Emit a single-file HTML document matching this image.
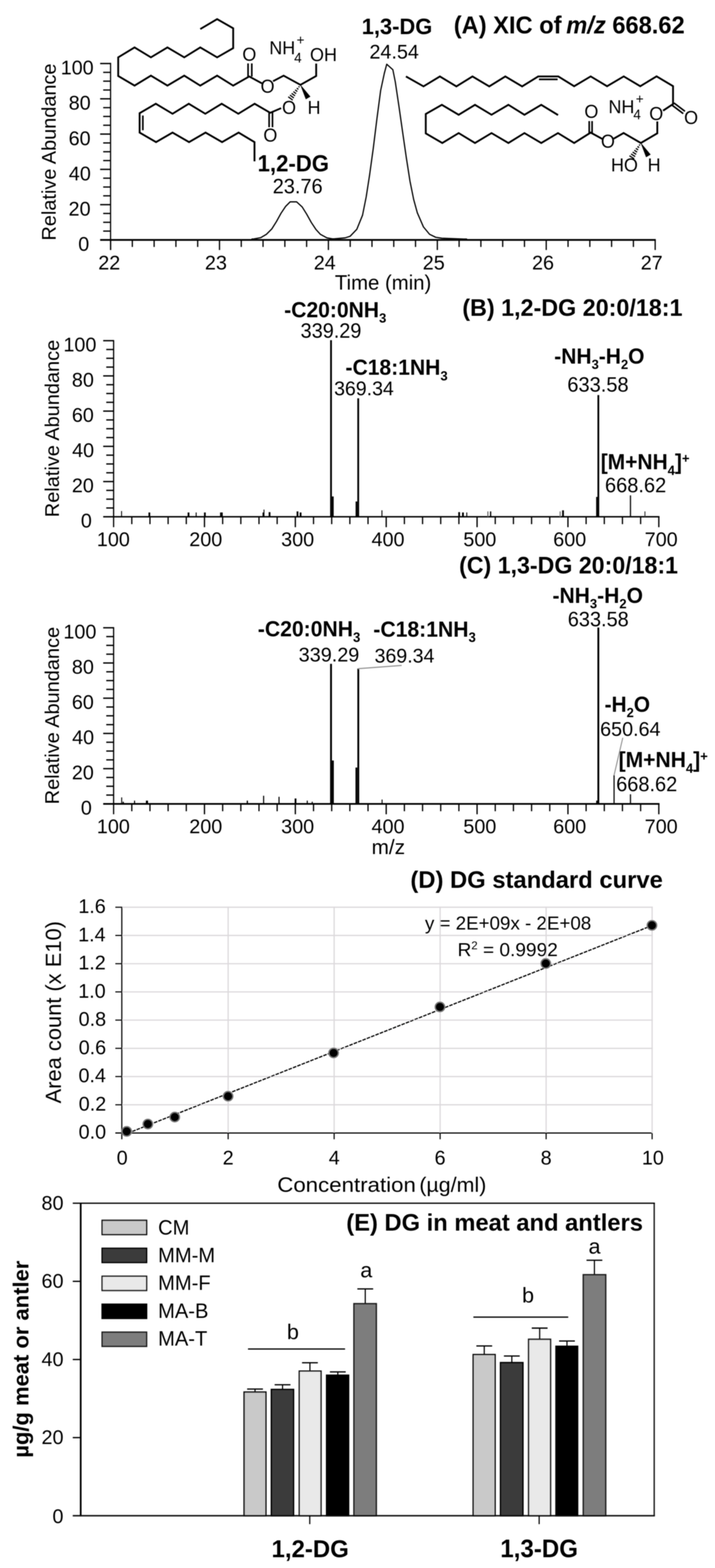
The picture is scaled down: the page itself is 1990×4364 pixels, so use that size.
<!DOCTYPE html>
<html lang="en">
<head>
<meta charset="utf-8">
<title>DG figure</title>
<style>
html,body{margin:0;padding:0;background:#fff;}
body{width:1990px;height:4364px;overflow:hidden;}
svg{display:block;font-family:"Liberation Sans",sans-serif;}
text{white-space:pre;}
</style>
</head>
<body>
<svg width="1990" height="4364" viewBox="0 0 1990 4364">
<defs><filter id="soft" filterUnits="userSpaceOnUse" x="0" y="0" width="1990" height="4364"><feGaussianBlur stdDeviation="1"/></filter></defs>
<rect x="0" y="0" width="1990" height="4364" fill="#fff"/>
<g filter="url(#soft)">
<g id="panelA">
<line x1="307.7" y1="174.8" x2="307.7" y2="695.8" stroke="#000" stroke-width="3.3"/>
<line x1="278.7" y1="667.8" x2="1825.2" y2="667.8" stroke="#000" stroke-width="5"/>
<text transform="translate(217.7 698.1) scale(1 1.02)" font-size="55">0</text>
<line x1="287.2" y1="643.2" x2="307.7" y2="643.2" stroke="#000" stroke-width="3.6"/>
<line x1="287.2" y1="618.7" x2="307.7" y2="618.7" stroke="#000" stroke-width="3.6"/>
<line x1="287.2" y1="594.1" x2="307.7" y2="594.1" stroke="#000" stroke-width="3.6"/>
<line x1="278.7" y1="569.6" x2="307.7" y2="569.6" stroke="#000" stroke-width="3.8"/>
<text transform="translate(190.8 599.9) scale(1 1.02)" font-size="55">20</text>
<line x1="287.2" y1="545" x2="307.7" y2="545" stroke="#000" stroke-width="3.6"/>
<line x1="287.2" y1="520.5" x2="307.7" y2="520.5" stroke="#000" stroke-width="3.6"/>
<line x1="287.2" y1="495.9" x2="307.7" y2="495.9" stroke="#000" stroke-width="3.6"/>
<line x1="278.7" y1="471.4" x2="307.7" y2="471.4" stroke="#000" stroke-width="3.8"/>
<text transform="translate(191.6 501.7) scale(1 1.02)" font-size="55">40</text>
<line x1="287.2" y1="446.9" x2="307.7" y2="446.9" stroke="#000" stroke-width="3.6"/>
<line x1="287.2" y1="422.3" x2="307.7" y2="422.3" stroke="#000" stroke-width="3.6"/>
<line x1="287.2" y1="397.8" x2="307.7" y2="397.8" stroke="#000" stroke-width="3.6"/>
<line x1="278.7" y1="373.2" x2="307.7" y2="373.2" stroke="#000" stroke-width="3.8"/>
<text transform="translate(191 403.5) scale(1 1.02)" font-size="55">60</text>
<line x1="287.2" y1="348.6" x2="307.7" y2="348.6" stroke="#000" stroke-width="3.6"/>
<line x1="287.2" y1="324.1" x2="307.7" y2="324.1" stroke="#000" stroke-width="3.6"/>
<line x1="287.2" y1="299.6" x2="307.7" y2="299.6" stroke="#000" stroke-width="3.6"/>
<line x1="278.7" y1="275" x2="307.7" y2="275" stroke="#000" stroke-width="3.8"/>
<text transform="translate(191.2 305.3) scale(1 1.02)" font-size="55">80</text>
<line x1="287.2" y1="250.5" x2="307.7" y2="250.5" stroke="#000" stroke-width="3.6"/>
<line x1="287.2" y1="225.9" x2="307.7" y2="225.9" stroke="#000" stroke-width="3.6"/>
<line x1="287.2" y1="201.4" x2="307.7" y2="201.4" stroke="#000" stroke-width="3.6"/>
<line x1="278.7" y1="176.8" x2="307.7" y2="176.8" stroke="#000" stroke-width="3.8"/>
<text transform="translate(168.9 207.1) scale(1 1.02)" font-size="55">100</text>
<line x1="307.7" y1="667.8" x2="307.7" y2="695.8" stroke="#000" stroke-width="3.5"/>
<text transform="translate(273.4 749.5) scale(1 1.02)" font-size="55">22</text>
<line x1="368.3" y1="667.8" x2="368.3" y2="687.3" stroke="#000" stroke-width="3.5"/>
<line x1="429" y1="667.8" x2="429" y2="687.3" stroke="#000" stroke-width="3.5"/>
<line x1="489.6" y1="667.8" x2="489.6" y2="687.3" stroke="#000" stroke-width="3.5"/>
<line x1="550.2" y1="667.8" x2="550.2" y2="687.3" stroke="#000" stroke-width="3.5"/>
<line x1="610.9" y1="667.8" x2="610.9" y2="695.8" stroke="#000" stroke-width="3.5"/>
<text transform="translate(570.3 749.5) scale(1 1.02)" font-size="55">23</text>
<line x1="671.5" y1="667.8" x2="671.5" y2="687.3" stroke="#000" stroke-width="3.5"/>
<line x1="732.1" y1="667.8" x2="732.1" y2="687.3" stroke="#000" stroke-width="3.5"/>
<line x1="792.8" y1="667.8" x2="792.8" y2="687.3" stroke="#000" stroke-width="3.5"/>
<line x1="853.4" y1="667.8" x2="853.4" y2="687.3" stroke="#000" stroke-width="3.5"/>
<line x1="914" y1="667.8" x2="914" y2="695.8" stroke="#000" stroke-width="3.5"/>
<text transform="translate(873.2 749.5) scale(1 1.02)" font-size="55">24</text>
<line x1="974.7" y1="667.8" x2="974.7" y2="687.3" stroke="#000" stroke-width="3.5"/>
<line x1="1035.3" y1="667.8" x2="1035.3" y2="687.3" stroke="#000" stroke-width="3.5"/>
<line x1="1095.9" y1="667.8" x2="1095.9" y2="687.3" stroke="#000" stroke-width="3.5"/>
<line x1="1156.5" y1="667.8" x2="1156.5" y2="687.3" stroke="#000" stroke-width="3.5"/>
<line x1="1217.2" y1="667.8" x2="1217.2" y2="695.8" stroke="#000" stroke-width="3.5"/>
<text transform="translate(1176.6 749.5) scale(1 1.02)" font-size="55">25</text>
<line x1="1277.8" y1="667.8" x2="1277.8" y2="687.3" stroke="#000" stroke-width="3.5"/>
<line x1="1338.4" y1="667.8" x2="1338.4" y2="687.3" stroke="#000" stroke-width="3.5"/>
<line x1="1399.1" y1="667.8" x2="1399.1" y2="687.3" stroke="#000" stroke-width="3.5"/>
<line x1="1459.7" y1="667.8" x2="1459.7" y2="687.3" stroke="#000" stroke-width="3.5"/>
<line x1="1520.3" y1="667.8" x2="1520.3" y2="695.8" stroke="#000" stroke-width="3.5"/>
<text transform="translate(1480.7 749.5) scale(1 1.02)" font-size="55">26</text>
<line x1="1581" y1="667.8" x2="1581" y2="687.3" stroke="#000" stroke-width="3.5"/>
<line x1="1641.6" y1="667.8" x2="1641.6" y2="687.3" stroke="#000" stroke-width="3.5"/>
<line x1="1702.2" y1="667.8" x2="1702.2" y2="687.3" stroke="#000" stroke-width="3.5"/>
<line x1="1762.9" y1="667.8" x2="1762.9" y2="687.3" stroke="#000" stroke-width="3.5"/>
<line x1="1823.5" y1="667.8" x2="1823.5" y2="695.8" stroke="#000" stroke-width="3.5"/>
<text transform="translate(1783.2 749.5) scale(1 1.02)" font-size="55">27</text>
<text transform="translate(154.5 669.4) rotate(-90)" font-size="55.4">Relative Abundance</text>
<text transform="translate(932.1 806)" font-size="56.61">Time (min)</text>
<polyline points="700,665.3 705.5,665.1 726,661.3 741.3,652.3 756.6,637 769.4,616.6 782.1,593.6 794.9,574.5 807.6,561.7 825.5,561.7 840.8,575.7 853.6,596.2 866.4,619.1 879.1,638.3 891.9,652.3 909.8,662 925,664.6 930,664.8 960.6,662 974.3,657.7 993,638.3 1009,599 1019.2,548 1028.7,486.8 1039,412 1049.1,330.2 1059.4,252 1069.6,204.3 1076.4,178.7 1093.4,194 1100.2,228 1110.4,296.2 1120.6,367.7 1130.9,439 1141,503.8 1151.3,555 1161.5,592.3 1178.5,631.5 1195.5,652 1212.6,660.4 1229.6,663 1287.4,665.2 1300,665.5" fill="none" stroke="#000" stroke-width="3.4" stroke-linejoin="round" stroke-linecap="butt"/>
<text transform="translate(1006.8 95) scale(1 1.04)" font-size="60.94" font-weight="bold">1,3-DG</text>
<text transform="translate(1028.3 163) scale(1 1.02)" font-size="54.97">24.54</text>
<text transform="translate(717.1 477) scale(1 1.04)" font-size="61.61" font-weight="bold">1,2-DG</text>
<text transform="translate(758.9 538.4) scale(1 1.02)" font-size="55.6">23.76</text>
<text transform="translate(1262.9 93.2) scale(1 1.04)" font-size="65.86" font-weight="bold">(A) XIC of <tspan font-style="italic">m/z</tspan> 668.62</text>
<polyline points="557.4,80.9 604.3,53.2 649,78.7 649,134 604.3,159.6 557.4,132 512.8,159.6 466,132 420,159.6 374.5,132 329,159.6 329,211.5 374.5,238.3 420,210.6 466,238.3 512.8,210.6 557.4,238.3 604.3,210.6 649,238.3 693.6,212.8 729,232" fill="none" stroke="#000" stroke-width="5.1" stroke-linejoin="miter" stroke-linecap="butt"/>
<line x1="700.8" y1="213" x2="700.8" y2="176.5" stroke="#000" stroke-width="4.5"/>
<line x1="690.4" y1="213" x2="690.4" y2="176.5" stroke="#000" stroke-width="4.5"/>
<text transform="translate(674.6 168.9) scale(1 1.04)" font-size="50">O</text>
<text transform="translate(725.3 257.8) scale(1 1.04)" font-size="50">O</text>
<polyline points="760,226 789.4,210.6 836.2,236.2 880,211.5 880,177" fill="none" stroke="#000" stroke-width="5.1" stroke-linejoin="miter" stroke-linecap="butt"/>
<text transform="translate(862.8 169.5) scale(1 1.04)" font-size="50">OH</text>
<text transform="translate(749.5 151) scale(1 1.04)" font-size="50">NH<tspan font-size="37.5" dy="22" dx="-3">4</tspan><tspan font-size="37.5" dy="-48" dx="-14">+</tspan></text>
<line x1="830.8" y1="240.5" x2="833.7" y2="242.7" stroke="#000" stroke-width="3.4"/>
<line x1="826" y1="245.3" x2="830.5" y2="248.7" stroke="#000" stroke-width="3.4"/>
<line x1="821.3" y1="250.2" x2="827.4" y2="254.6" stroke="#000" stroke-width="3.4"/>
<line x1="816.5" y1="255" x2="824.2" y2="260.6" stroke="#000" stroke-width="3.4"/>
<line x1="811.7" y1="259.8" x2="821.1" y2="266.6" stroke="#000" stroke-width="3.4"/>
<line x1="807" y1="264.6" x2="817.9" y2="272.6" stroke="#000" stroke-width="3.4"/>
<line x1="802.2" y1="269.4" x2="814.8" y2="278.6" stroke="#000" stroke-width="3.4"/>
<polygon points="836.2,236.2 851.4,275.8 863.4,268.8" fill="#000" stroke="#000" stroke-width="1"/>
<text transform="translate(784.9 317.4) scale(1 1.04)" font-size="50">O</text>
<text transform="translate(855.9 317.4) scale(1 1.04)" font-size="50">H</text>
<polyline points="782.5,301 752,314 708.7,288.8 663.3,316.6 617,288.8 571.4,316.6 525.4,288.8 480.2,316.6 433.6,288.8 388.6,315 388.6,369 434.3,395.5 480.2,369 526.2,395.5 572.1,369 618.1,395.5 664.1,369 708.3,395.5 708.3,449" fill="none" stroke="#000" stroke-width="5.1" stroke-linejoin="miter" stroke-linecap="butt"/>
<line x1="397.6" y1="321.5" x2="397.6" y2="362.5" stroke="#000" stroke-width="4.5"/>
<line x1="749" y1="313" x2="749" y2="354" stroke="#000" stroke-width="4.5"/>
<line x1="758.4" y1="313" x2="758.4" y2="354" stroke="#000" stroke-width="4.5"/>
<text transform="translate(733 394.4) scale(1 1.04)" font-size="50">O</text>
<polyline points="1129.8,212.8 1178.7,240.4 1224.3,212.8 1270.2,240.4 1315,212.8 1361.7,240.4 1406.4,212.8 1453.2,240.4 1497.9,212.8 1554,212.8 1598,240 1644,212.6 1689.6,240 1736,212.6 1782,240 1827.4,212.5 1873.2,239.7 1873.2,289.7 1845.5,308" fill="none" stroke="#000" stroke-width="5.1" stroke-linejoin="miter" stroke-linecap="butt"/>
<line x1="1500" y1="220.8" x2="1552" y2="220.8" stroke="#000" stroke-width="4.7"/>
<line x1="1870.8" y1="292.9" x2="1901.6" y2="316.2" stroke="#000" stroke-width="4.5"/>
<line x1="1875.6" y1="286.5" x2="1906.4" y2="309.8" stroke="#000" stroke-width="4.5"/>
<text transform="translate(1903.9 344.6) scale(1 1.04)" font-size="50">O</text>
<text transform="translate(1807.1 334.2) scale(1 1.04)" font-size="50">O</text>
<polyline points="1829.4,338 1829.4,371 1783.6,398 1735.6,370.2 1708,386" fill="none" stroke="#000" stroke-width="5.1" stroke-linejoin="miter" stroke-linecap="butt"/>
<text transform="translate(1672.4 411.4) scale(1 1.04)" font-size="50">O</text>
<polyline points="1553.2,320.2 1506.4,291.7 1459.6,319.4 1414.9,291.7 1368,319.4 1322,291.7 1276.6,319.4 1229.8,291.7 1185,317.2 1185,371.3 1231,398 1276.6,370.4 1322,398 1368,370.4 1415,398 1459.6,370.4 1506.4,398 1553,370.4 1598,398 1643.9,369 1677,387" fill="none" stroke="#000" stroke-width="5.1" stroke-linejoin="miter" stroke-linecap="butt"/>
<line x1="1647.9" y1="370" x2="1647.9" y2="337" stroke="#000" stroke-width="4.5"/>
<line x1="1639.9" y1="370" x2="1639.9" y2="337" stroke="#000" stroke-width="4.5"/>
<text transform="translate(1626.6 327.9) scale(1 1.04)" font-size="50">O</text>
<text transform="translate(1693.5 314.7) scale(1 1.04)" font-size="50">NH<tspan font-size="37.5" dy="16.5" dx="-3">4</tspan><tspan font-size="37.5" dy="-42.5" dx="-14">+</tspan></text>
<line x1="1778.5" y1="402.7" x2="1781.5" y2="404.6" stroke="#000" stroke-width="3.4"/>
<line x1="1774.1" y1="407.8" x2="1778.8" y2="410.8" stroke="#000" stroke-width="3.4"/>
<line x1="1769.6" y1="413" x2="1776.1" y2="417" stroke="#000" stroke-width="3.4"/>
<line x1="1765.2" y1="418.1" x2="1773.3" y2="423.3" stroke="#000" stroke-width="3.4"/>
<line x1="1760.8" y1="423.3" x2="1770.6" y2="429.5" stroke="#000" stroke-width="3.4"/>
<line x1="1756.3" y1="428.4" x2="1767.8" y2="435.7" stroke="#000" stroke-width="3.4"/>
<line x1="1751.9" y1="433.5" x2="1765.1" y2="441.9" stroke="#000" stroke-width="3.4"/>
<polygon points="1783.6,398 1798.4,437.1 1810.4,430.1" fill="#000" stroke="#000" stroke-width="1"/>
<text transform="translate(1700.5 476.5) scale(1 1.04)" font-size="50">HO</text>
<text transform="translate(1802.5 476.5) scale(1 1.04)" font-size="50">H</text>
</g>
<g id="panelB">
<line x1="316.2" y1="946.4" x2="316.2" y2="1467.3" stroke="#000" stroke-width="3.4"/>
<line x1="287.2" y1="1438.3" x2="1835.5" y2="1438.3" stroke="#000" stroke-width="3.9"/>
<text transform="translate(225.1 1467.8) scale(1 1.02)" font-size="55">0</text>
<line x1="295.7" y1="1413.8" x2="316.2" y2="1413.8" stroke="#000" stroke-width="3.7"/>
<line x1="295.7" y1="1389.3" x2="316.2" y2="1389.3" stroke="#000" stroke-width="3.7"/>
<line x1="295.7" y1="1364.8" x2="316.2" y2="1364.8" stroke="#000" stroke-width="3.7"/>
<line x1="287.2" y1="1340.3" x2="316.2" y2="1340.3" stroke="#000" stroke-width="3.8"/>
<text transform="translate(199.9 1369.8) scale(1 1.02)" font-size="55">20</text>
<line x1="295.7" y1="1315.8" x2="316.2" y2="1315.8" stroke="#000" stroke-width="3.7"/>
<line x1="295.7" y1="1291.3" x2="316.2" y2="1291.3" stroke="#000" stroke-width="3.7"/>
<line x1="295.7" y1="1266.8" x2="316.2" y2="1266.8" stroke="#000" stroke-width="3.7"/>
<line x1="287.2" y1="1242.3" x2="316.2" y2="1242.3" stroke="#000" stroke-width="3.8"/>
<text transform="translate(200.7 1271.8) scale(1 1.02)" font-size="55">40</text>
<line x1="295.7" y1="1217.8" x2="316.2" y2="1217.8" stroke="#000" stroke-width="3.7"/>
<line x1="295.7" y1="1193.2" x2="316.2" y2="1193.2" stroke="#000" stroke-width="3.7"/>
<line x1="295.7" y1="1168.7" x2="316.2" y2="1168.7" stroke="#000" stroke-width="3.7"/>
<line x1="287.2" y1="1144.2" x2="316.2" y2="1144.2" stroke="#000" stroke-width="3.8"/>
<text transform="translate(199.9 1173.7) scale(1 1.02)" font-size="55">60</text>
<line x1="295.7" y1="1119.7" x2="316.2" y2="1119.7" stroke="#000" stroke-width="3.7"/>
<line x1="295.7" y1="1095.2" x2="316.2" y2="1095.2" stroke="#000" stroke-width="3.7"/>
<line x1="295.7" y1="1070.7" x2="316.2" y2="1070.7" stroke="#000" stroke-width="3.7"/>
<line x1="287.2" y1="1046.2" x2="316.2" y2="1046.2" stroke="#000" stroke-width="3.8"/>
<text transform="translate(200.1 1075.7) scale(1 1.02)" font-size="55">80</text>
<line x1="295.7" y1="1021.7" x2="316.2" y2="1021.7" stroke="#000" stroke-width="3.7"/>
<line x1="295.7" y1="997.2" x2="316.2" y2="997.2" stroke="#000" stroke-width="3.7"/>
<line x1="295.7" y1="972.7" x2="316.2" y2="972.7" stroke="#000" stroke-width="3.7"/>
<line x1="287.2" y1="948.2" x2="316.2" y2="948.2" stroke="#000" stroke-width="3.8"/>
<text transform="translate(176.5 977.7) scale(1 1.02)" font-size="55">100</text>
<text transform="translate(269.6 1520.4) scale(1 1.02)" font-size="55">100</text>
<line x1="366.8" y1="1438.3" x2="366.8" y2="1458.8" stroke="#000" stroke-width="3.5"/>
<line x1="417.4" y1="1438.3" x2="417.4" y2="1458.8" stroke="#000" stroke-width="3.5"/>
<line x1="467.9" y1="1438.3" x2="467.9" y2="1458.8" stroke="#000" stroke-width="3.5"/>
<line x1="518.5" y1="1438.3" x2="518.5" y2="1458.8" stroke="#000" stroke-width="3.5"/>
<line x1="569.1" y1="1438.3" x2="569.1" y2="1467.3" stroke="#000" stroke-width="3.6"/>
<text transform="translate(526.8 1520.4) scale(1 1.02)" font-size="55">200</text>
<line x1="619.7" y1="1438.3" x2="619.7" y2="1458.8" stroke="#000" stroke-width="3.5"/>
<line x1="670.3" y1="1438.3" x2="670.3" y2="1458.8" stroke="#000" stroke-width="3.5"/>
<line x1="720.8" y1="1438.3" x2="720.8" y2="1458.8" stroke="#000" stroke-width="3.5"/>
<line x1="771.4" y1="1438.3" x2="771.4" y2="1458.8" stroke="#000" stroke-width="3.5"/>
<line x1="822" y1="1438.3" x2="822" y2="1467.3" stroke="#000" stroke-width="3.6"/>
<text transform="translate(782.6 1520.4) scale(1 1.02)" font-size="55">300</text>
<line x1="872.6" y1="1438.3" x2="872.6" y2="1458.8" stroke="#000" stroke-width="3.5"/>
<line x1="923.2" y1="1438.3" x2="923.2" y2="1458.8" stroke="#000" stroke-width="3.5"/>
<line x1="973.7" y1="1438.3" x2="973.7" y2="1458.8" stroke="#000" stroke-width="3.5"/>
<line x1="1024.3" y1="1438.3" x2="1024.3" y2="1458.8" stroke="#000" stroke-width="3.5"/>
<line x1="1074.9" y1="1438.3" x2="1074.9" y2="1467.3" stroke="#000" stroke-width="3.6"/>
<text transform="translate(1034.1 1520.4) scale(1 1.02)" font-size="55">400</text>
<line x1="1125.5" y1="1438.3" x2="1125.5" y2="1458.8" stroke="#000" stroke-width="3.5"/>
<line x1="1176.1" y1="1438.3" x2="1176.1" y2="1458.8" stroke="#000" stroke-width="3.5"/>
<line x1="1226.6" y1="1438.3" x2="1226.6" y2="1458.8" stroke="#000" stroke-width="3.5"/>
<line x1="1277.2" y1="1438.3" x2="1277.2" y2="1458.8" stroke="#000" stroke-width="3.5"/>
<line x1="1327.8" y1="1438.3" x2="1327.8" y2="1467.3" stroke="#000" stroke-width="3.6"/>
<text transform="translate(1289.6 1520.4) scale(1 1.02)" font-size="55">500</text>
<line x1="1378.4" y1="1438.3" x2="1378.4" y2="1458.8" stroke="#000" stroke-width="3.5"/>
<line x1="1429" y1="1438.3" x2="1429" y2="1458.8" stroke="#000" stroke-width="3.5"/>
<line x1="1479.5" y1="1438.3" x2="1479.5" y2="1458.8" stroke="#000" stroke-width="3.5"/>
<line x1="1530.1" y1="1438.3" x2="1530.1" y2="1458.8" stroke="#000" stroke-width="3.5"/>
<line x1="1580.7" y1="1438.3" x2="1580.7" y2="1467.3" stroke="#000" stroke-width="3.6"/>
<text transform="translate(1539.8 1520.4) scale(1 1.02)" font-size="55">600</text>
<line x1="1631.3" y1="1438.3" x2="1631.3" y2="1458.8" stroke="#000" stroke-width="3.5"/>
<line x1="1681.9" y1="1438.3" x2="1681.9" y2="1458.8" stroke="#000" stroke-width="3.5"/>
<line x1="1732.4" y1="1438.3" x2="1732.4" y2="1458.8" stroke="#000" stroke-width="3.5"/>
<line x1="1783" y1="1438.3" x2="1783" y2="1458.8" stroke="#000" stroke-width="3.5"/>
<line x1="1833.6" y1="1438.3" x2="1833.6" y2="1467.3" stroke="#000" stroke-width="3.6"/>
<text transform="translate(1794.3 1520.4) scale(1 1.02)" font-size="55">700</text>
<text transform="translate(163.8 1439.4) rotate(-90)" font-size="55.51">Relative Abundance</text>
<line x1="921.3" y1="946.8" x2="921.3" y2="1438.3" stroke="#000" stroke-width="5"/>
<line x1="926.2" y1="1381.7" x2="926.2" y2="1438.3" stroke="#000" stroke-width="5"/>
<line x1="997" y1="1108.5" x2="997" y2="1438.3" stroke="#000" stroke-width="5"/>
<line x1="992.2" y1="1395.7" x2="992.2" y2="1438.3" stroke="#000" stroke-width="5"/>
<line x1="1665.3" y1="1099.5" x2="1665.3" y2="1438.3" stroke="#000" stroke-width="5"/>
<line x1="1661" y1="1383" x2="1661" y2="1438.3" stroke="#000" stroke-width="3.7"/>
<line x1="1754.7" y1="1378.7" x2="1754.7" y2="1438.3" stroke="#111" stroke-width="3.4"/>
<line x1="338.3" y1="1422.3" x2="338.3" y2="1438.3" stroke="#000" stroke-width="2.5"/>
<line x1="415.7" y1="1426.3" x2="415.7" y2="1438.3" stroke="#000" stroke-width="5"/>
<line x1="524.7" y1="1426.3" x2="524.7" y2="1438.3" stroke="#000" stroke-width="5"/>
<line x1="546" y1="1426.3" x2="546" y2="1438.3" stroke="#000" stroke-width="2.7"/>
<line x1="570.2" y1="1426.3" x2="570.2" y2="1438.3" stroke="#000" stroke-width="5"/>
<line x1="616.2" y1="1426.3" x2="616.2" y2="1438.3" stroke="#000" stroke-width="7.5"/>
<line x1="733.2" y1="1426.3" x2="733.2" y2="1438.3" stroke="#000" stroke-width="5"/>
<line x1="734.8" y1="1418.3" x2="734.8" y2="1438.3" stroke="#000" stroke-width="2.5"/>
<line x1="750.2" y1="1425.3" x2="750.2" y2="1438.3" stroke="#000" stroke-width="5"/>
<line x1="828" y1="1423.3" x2="828" y2="1438.3" stroke="#000" stroke-width="5"/>
<line x1="836.6" y1="1426.3" x2="836.6" y2="1438.3" stroke="#000" stroke-width="5"/>
<line x1="1063" y1="1420.3" x2="1063" y2="1438.3" stroke="#000" stroke-width="2.7"/>
<line x1="1277.9" y1="1425.3" x2="1277.9" y2="1438.3" stroke="#000" stroke-width="5"/>
<line x1="1288.5" y1="1426.3" x2="1288.5" y2="1438.3" stroke="#000" stroke-width="5"/>
<line x1="1299.1" y1="1426.3" x2="1299.1" y2="1438.3" stroke="#000" stroke-width="2.7"/>
<line x1="1357.9" y1="1423.3" x2="1357.9" y2="1438.3" stroke="#555" stroke-width="2.7"/>
<line x1="1365.5" y1="1423.3" x2="1365.5" y2="1438.3" stroke="#000" stroke-width="3.5"/>
<line x1="1559" y1="1423.3" x2="1559" y2="1438.3" stroke="#666" stroke-width="2.7"/>
<line x1="1567" y1="1420.3" x2="1567" y2="1438.3" stroke="#000" stroke-width="5"/>
<line x1="1795" y1="1423.3" x2="1795" y2="1438.3" stroke="#333" stroke-width="2.7"/>
<text transform="translate(791 883) scale(1 1.04)" font-size="58.65" font-weight="bold">-C20:0NH<tspan font-size="36.36" dy="14.66">3</tspan></text>
<text transform="translate(836.6 939.6) scale(1 1.02)" font-size="55.36">339.29</text>
<text transform="translate(961.6 1043.4) scale(1 1.04)" font-size="58.67" font-weight="bold">-C18:1NH<tspan font-size="36.38" dy="14.67">3</tspan></text>
<text transform="translate(929.9 1099.6) scale(1 1.02)" font-size="54.34">369.34</text>
<text transform="translate(1286.7 878.7) scale(1 1.04)" font-size="64.87" font-weight="bold">(B) 1,2-DG 20:0/18:1</text>
<text transform="translate(1542.6 1012.2) scale(1 1.04)" font-size="58.41" font-weight="bold">-NH<tspan font-size="36.21" dy="14.6">3</tspan><tspan dy="-14.6">-H</tspan><tspan font-size="36.21" dy="14.6">2</tspan><tspan dy="-14.6">O</tspan></text>
<text transform="translate(1578.9 1090.3) scale(1 1.02)" font-size="55.8">633.58</text>
<text transform="translate(1671.9 1306.4) scale(1 1.04)" font-size="58.39" font-weight="bold">[M+NH<tspan font-size="36.2" dy="14.6">4</tspan><tspan dy="-14.6">]</tspan><tspan font-size="36.2" dy="-17.52">+</tspan></text>
<text transform="translate(1683.8 1370.2) scale(1 1.02)" font-size="55.78">668.62</text>
<line x1="316.2" y1="1745.4" x2="316.2" y2="2266.3" stroke="#000" stroke-width="3.4"/>
<line x1="287.2" y1="2237.3" x2="1835.5" y2="2237.3" stroke="#000" stroke-width="4.8"/>
<text transform="translate(225.1 2266.8) scale(1 1.02)" font-size="55">0</text>
<line x1="295.7" y1="2212.8" x2="316.2" y2="2212.8" stroke="#000" stroke-width="3.7"/>
<line x1="295.7" y1="2188.3" x2="316.2" y2="2188.3" stroke="#000" stroke-width="3.7"/>
<line x1="295.7" y1="2163.8" x2="316.2" y2="2163.8" stroke="#000" stroke-width="3.7"/>
<line x1="287.2" y1="2139.3" x2="316.2" y2="2139.3" stroke="#000" stroke-width="3.8"/>
<text transform="translate(199.9 2168.8) scale(1 1.02)" font-size="55">20</text>
<line x1="295.7" y1="2114.8" x2="316.2" y2="2114.8" stroke="#000" stroke-width="3.7"/>
<line x1="295.7" y1="2090.3" x2="316.2" y2="2090.3" stroke="#000" stroke-width="3.7"/>
<line x1="295.7" y1="2065.8" x2="316.2" y2="2065.8" stroke="#000" stroke-width="3.7"/>
<line x1="287.2" y1="2041.3" x2="316.2" y2="2041.3" stroke="#000" stroke-width="3.8"/>
<text transform="translate(200.7 2070.8) scale(1 1.02)" font-size="55">40</text>
<line x1="295.7" y1="2016.8" x2="316.2" y2="2016.8" stroke="#000" stroke-width="3.7"/>
<line x1="295.7" y1="1992.2" x2="316.2" y2="1992.2" stroke="#000" stroke-width="3.7"/>
<line x1="295.7" y1="1967.7" x2="316.2" y2="1967.7" stroke="#000" stroke-width="3.7"/>
<line x1="287.2" y1="1943.2" x2="316.2" y2="1943.2" stroke="#000" stroke-width="3.8"/>
<text transform="translate(199.9 1972.7) scale(1 1.02)" font-size="55">60</text>
<line x1="295.7" y1="1918.7" x2="316.2" y2="1918.7" stroke="#000" stroke-width="3.7"/>
<line x1="295.7" y1="1894.2" x2="316.2" y2="1894.2" stroke="#000" stroke-width="3.7"/>
<line x1="295.7" y1="1869.7" x2="316.2" y2="1869.7" stroke="#000" stroke-width="3.7"/>
<line x1="287.2" y1="1845.2" x2="316.2" y2="1845.2" stroke="#000" stroke-width="3.8"/>
<text transform="translate(200.1 1874.7) scale(1 1.02)" font-size="55">80</text>
<line x1="295.7" y1="1820.7" x2="316.2" y2="1820.7" stroke="#000" stroke-width="3.7"/>
<line x1="295.7" y1="1796.2" x2="316.2" y2="1796.2" stroke="#000" stroke-width="3.7"/>
<line x1="295.7" y1="1771.7" x2="316.2" y2="1771.7" stroke="#000" stroke-width="3.7"/>
<line x1="287.2" y1="1747.2" x2="316.2" y2="1747.2" stroke="#000" stroke-width="3.8"/>
<text transform="translate(176.5 1776.7) scale(1 1.02)" font-size="55">100</text>
<text transform="translate(269.6 2319.4) scale(1 1.02)" font-size="55">100</text>
<line x1="366.8" y1="2237.3" x2="366.8" y2="2257.8" stroke="#000" stroke-width="3.5"/>
<line x1="417.4" y1="2237.3" x2="417.4" y2="2257.8" stroke="#000" stroke-width="3.5"/>
<line x1="467.9" y1="2237.3" x2="467.9" y2="2257.8" stroke="#000" stroke-width="3.5"/>
<line x1="518.5" y1="2237.3" x2="518.5" y2="2257.8" stroke="#000" stroke-width="3.5"/>
<line x1="569.1" y1="2237.3" x2="569.1" y2="2266.3" stroke="#000" stroke-width="3.6"/>
<text transform="translate(526.8 2319.4) scale(1 1.02)" font-size="55">200</text>
<line x1="619.7" y1="2237.3" x2="619.7" y2="2257.8" stroke="#000" stroke-width="3.5"/>
<line x1="670.3" y1="2237.3" x2="670.3" y2="2257.8" stroke="#000" stroke-width="3.5"/>
<line x1="720.8" y1="2237.3" x2="720.8" y2="2257.8" stroke="#000" stroke-width="3.5"/>
<line x1="771.4" y1="2237.3" x2="771.4" y2="2257.8" stroke="#000" stroke-width="3.5"/>
<line x1="822" y1="2237.3" x2="822" y2="2266.3" stroke="#000" stroke-width="3.6"/>
<text transform="translate(782.6 2319.4) scale(1 1.02)" font-size="55">300</text>
<line x1="872.6" y1="2237.3" x2="872.6" y2="2257.8" stroke="#000" stroke-width="3.5"/>
<line x1="923.2" y1="2237.3" x2="923.2" y2="2257.8" stroke="#000" stroke-width="3.5"/>
<line x1="973.7" y1="2237.3" x2="973.7" y2="2257.8" stroke="#000" stroke-width="3.5"/>
<line x1="1024.3" y1="2237.3" x2="1024.3" y2="2257.8" stroke="#000" stroke-width="3.5"/>
<line x1="1074.9" y1="2237.3" x2="1074.9" y2="2266.3" stroke="#000" stroke-width="3.6"/>
<text transform="translate(1034.1 2319.4) scale(1 1.02)" font-size="55">400</text>
<line x1="1125.5" y1="2237.3" x2="1125.5" y2="2257.8" stroke="#000" stroke-width="3.5"/>
<line x1="1176.1" y1="2237.3" x2="1176.1" y2="2257.8" stroke="#000" stroke-width="3.5"/>
<line x1="1226.6" y1="2237.3" x2="1226.6" y2="2257.8" stroke="#000" stroke-width="3.5"/>
<line x1="1277.2" y1="2237.3" x2="1277.2" y2="2257.8" stroke="#000" stroke-width="3.5"/>
<line x1="1327.8" y1="2237.3" x2="1327.8" y2="2266.3" stroke="#000" stroke-width="3.6"/>
<text transform="translate(1289.6 2319.4) scale(1 1.02)" font-size="55">500</text>
<line x1="1378.4" y1="2237.3" x2="1378.4" y2="2257.8" stroke="#000" stroke-width="3.5"/>
<line x1="1429" y1="2237.3" x2="1429" y2="2257.8" stroke="#000" stroke-width="3.5"/>
<line x1="1479.5" y1="2237.3" x2="1479.5" y2="2257.8" stroke="#000" stroke-width="3.5"/>
<line x1="1530.1" y1="2237.3" x2="1530.1" y2="2257.8" stroke="#000" stroke-width="3.5"/>
<line x1="1580.7" y1="2237.3" x2="1580.7" y2="2266.3" stroke="#000" stroke-width="3.6"/>
<text transform="translate(1539.8 2319.4) scale(1 1.02)" font-size="55">600</text>
<line x1="1631.3" y1="2237.3" x2="1631.3" y2="2257.8" stroke="#000" stroke-width="3.5"/>
<line x1="1681.9" y1="2237.3" x2="1681.9" y2="2257.8" stroke="#000" stroke-width="3.5"/>
<line x1="1732.4" y1="2237.3" x2="1732.4" y2="2257.8" stroke="#000" stroke-width="3.5"/>
<line x1="1783" y1="2237.3" x2="1783" y2="2257.8" stroke="#000" stroke-width="3.5"/>
<line x1="1833.6" y1="2237.3" x2="1833.6" y2="2266.3" stroke="#000" stroke-width="3.6"/>
<text transform="translate(1794.3 2319.4) scale(1 1.02)" font-size="55">700</text>
<text transform="translate(163.8 2238.4) rotate(-90)" font-size="55.51">Relative Abundance</text>
<line x1="921.3" y1="1847.6" x2="921.3" y2="2237.3" stroke="#000" stroke-width="5.2"/>
<line x1="926.5" y1="2116.6" x2="926.5" y2="2237.3" stroke="#000" stroke-width="5.2"/>
<line x1="997.2" y1="1860.8" x2="997.2" y2="2237.3" stroke="#000" stroke-width="5.2"/>
<line x1="992" y1="2136.2" x2="992" y2="2237.3" stroke="#000" stroke-width="5.2"/>
<line x1="1665.3" y1="1746.5" x2="1665.3" y2="2237.3" stroke="#000" stroke-width="5.2"/>
<line x1="1661.5" y1="2228.3" x2="1661.5" y2="2237.3" stroke="#000" stroke-width="4.5"/>
<line x1="1709.1" y1="2157.4" x2="1709.1" y2="2237.3" stroke="#111" stroke-width="3.4"/>
<line x1="1754.7" y1="2210.6" x2="1754.7" y2="2237.3" stroke="#111" stroke-width="3.4"/>
<line x1="338.7" y1="2219.3" x2="338.7" y2="2237.3" stroke="#000" stroke-width="2.7"/>
<line x1="343" y1="2231.3" x2="343" y2="2237.3" stroke="#000" stroke-width="3.5"/>
<line x1="374.5" y1="2228.3" x2="374.5" y2="2237.3" stroke="#000" stroke-width="3"/>
<line x1="409" y1="2228.3" x2="409" y2="2237.3" stroke="#000" stroke-width="6"/>
<line x1="688.4" y1="2228.3" x2="688.4" y2="2237.3" stroke="#000" stroke-width="3.5"/>
<line x1="733.7" y1="2214.7" x2="733.7" y2="2237.3" stroke="#000" stroke-width="3.1"/>
<line x1="776.6" y1="2217.6" x2="776.6" y2="2237.3" stroke="#000" stroke-width="3.1"/>
<line x1="822.5" y1="2222.3" x2="822.5" y2="2237.3" stroke="#000" stroke-width="5"/>
<line x1="855.2" y1="2228.3" x2="855.2" y2="2237.3" stroke="#000" stroke-width="3"/>
<line x1="869" y1="2231.3" x2="869" y2="2237.3" stroke="#000" stroke-width="3"/>
<line x1="1063.4" y1="2225.3" x2="1063.4" y2="2237.3" stroke="#000" stroke-width="2.7"/>
<text transform="translate(1277.8 1596.3) scale(1 1.04)" font-size="64.49" font-weight="bold">(C) 1,3-DG 20:0/18:1</text>
<text transform="translate(1537.8 1678.2) scale(1 1.04)" font-size="58.55" font-weight="bold">-NH<tspan font-size="36.3" dy="14.64">3</tspan><tspan dy="-14.64">-H</tspan><tspan font-size="36.3" dy="14.64">2</tspan><tspan dy="-14.64">O</tspan></text>
<text transform="translate(1580.2 1743) scale(1 1.02)" font-size="55.47">633.58</text>
<text transform="translate(717.6 1771.3) scale(1 1.04)" font-size="58.84" font-weight="bold">-C20:0NH<tspan font-size="36.48" dy="14.71">3</tspan></text>
<text transform="translate(1039.1 1771.5) scale(1 1.04)" font-size="58.84" font-weight="bold">-C18:1NH<tspan font-size="36.48" dy="14.71">3</tspan></text>
<text transform="translate(831.3 1840.5) scale(1 1.02)" font-size="55.16">339.29</text>
<text transform="translate(1042.4 1843.7) scale(1 1.02)" font-size="54.54">369.34</text>
<line x1="997" y1="1861" x2="1117.9" y2="1852" stroke="#8f8f8f" stroke-width="3"/>
<text transform="translate(1682.7 1980.9) scale(1 1.04)" font-size="58.14" font-weight="bold">-H<tspan font-size="36.05" dy="14.54">2</tspan><tspan dy="-14.54">O</tspan></text>
<text transform="translate(1670.3 2048) scale(1 1.02)" font-size="54.97">650.64</text>
<line x1="1733.4" y1="2053.2" x2="1709.1" y2="2157.4" stroke="#8f8f8f" stroke-width="2.8"/>
<text transform="translate(1721.7 2135.3) scale(1 1.04)" font-size="58.67" font-weight="bold">[M+NH<tspan font-size="36.38" dy="14.67">4</tspan><tspan dy="-14.67">]</tspan><tspan font-size="36.38" dy="-17.6">+</tspan></text>
<text transform="translate(1714.9 2202.1) scale(1 1.02)" font-size="55.61">668.62</text>
<text transform="translate(1034.2 2377)" font-size="57.83">m/z</text>
</g>
<g id="panelD">
<line x1="340" y1="3074.8" x2="1817" y2="3074.8" stroke="#dcd9dc" stroke-width="3.4"/>
<line x1="340" y1="2996.2" x2="1817" y2="2996.2" stroke="#dcd9dc" stroke-width="3.4"/>
<line x1="340" y1="2917.7" x2="1817" y2="2917.7" stroke="#dcd9dc" stroke-width="3.4"/>
<line x1="340" y1="2839.1" x2="1817" y2="2839.1" stroke="#dcd9dc" stroke-width="3.4"/>
<line x1="340" y1="2760.6" x2="1817" y2="2760.6" stroke="#dcd9dc" stroke-width="3.4"/>
<line x1="340" y1="2682.1" x2="1817" y2="2682.1" stroke="#dcd9dc" stroke-width="3.4"/>
<line x1="340" y1="2603.5" x2="1817" y2="2603.5" stroke="#dcd9dc" stroke-width="3.4"/>
<line x1="340" y1="2525" x2="1817" y2="2525" stroke="#dcd9dc" stroke-width="3.4"/>
<line x1="635" y1="2523.3" x2="635" y2="3153.3" stroke="#dcd9dc" stroke-width="3.4"/>
<line x1="930" y1="2523.3" x2="930" y2="3153.3" stroke="#dcd9dc" stroke-width="3.4"/>
<line x1="1225" y1="2523.3" x2="1225" y2="3153.3" stroke="#dcd9dc" stroke-width="3.4"/>
<line x1="1520" y1="2523.3" x2="1520" y2="3153.3" stroke="#dcd9dc" stroke-width="3.4"/>
<line x1="1815" y1="2523.3" x2="1815" y2="3153.3" stroke="#dcd9dc" stroke-width="3.4"/>
<line x1="339" y1="2523.6" x2="339" y2="3170.8" stroke="#000" stroke-width="3.2"/>
<line x1="321" y1="3153.3" x2="1814" y2="3153.3" stroke="#000" stroke-width="3.3"/>
<line x1="321" y1="3153.3" x2="339" y2="3153.3" stroke="#000" stroke-width="3"/>
<text transform="translate(218.8 3169.3) scale(1 1.02)" font-size="55">0.0</text>
<line x1="321" y1="3074.8" x2="339" y2="3074.8" stroke="#000" stroke-width="3"/>
<text transform="translate(219.1 3090.8) scale(1 1.02)" font-size="55">0.2</text>
<line x1="321" y1="2996.2" x2="339" y2="2996.2" stroke="#000" stroke-width="3"/>
<text transform="translate(218.5 3012.2) scale(1 1.02)" font-size="55">0.4</text>
<line x1="321" y1="2917.7" x2="339" y2="2917.7" stroke="#000" stroke-width="3"/>
<text transform="translate(218.9 2933.7) scale(1 1.02)" font-size="55">0.6</text>
<line x1="321" y1="2839.1" x2="339" y2="2839.1" stroke="#000" stroke-width="3"/>
<text transform="translate(218.8 2855.1) scale(1 1.02)" font-size="55">0.8</text>
<line x1="321" y1="2760.6" x2="339" y2="2760.6" stroke="#000" stroke-width="3"/>
<text transform="translate(217.7 2776.6) scale(1 1.02)" font-size="55">1.0</text>
<line x1="321" y1="2682.1" x2="339" y2="2682.1" stroke="#000" stroke-width="3"/>
<text transform="translate(218 2698.1) scale(1 1.02)" font-size="55">1.2</text>
<line x1="321" y1="2603.5" x2="339" y2="2603.5" stroke="#000" stroke-width="3"/>
<text transform="translate(217.5 2619.5) scale(1 1.02)" font-size="55">1.4</text>
<line x1="321" y1="2525" x2="339" y2="2525" stroke="#000" stroke-width="3"/>
<text transform="translate(217.9 2541) scale(1 1.02)" font-size="55">1.6</text>
<text transform="translate(324.7 3241.3) scale(1 1.02)" font-size="55">0</text>
<line x1="635" y1="3153.3" x2="635" y2="3170.8" stroke="#000" stroke-width="3.1"/>
<text transform="translate(619.7 3241.3) scale(1 1.02)" font-size="55">2</text>
<line x1="930" y1="3153.3" x2="930" y2="3170.8" stroke="#000" stroke-width="3.1"/>
<text transform="translate(914.9 3241.3) scale(1 1.02)" font-size="55">4</text>
<line x1="1225" y1="3153.3" x2="1225" y2="3170.8" stroke="#000" stroke-width="3.1"/>
<text transform="translate(1209.5 3241.3) scale(1 1.02)" font-size="55">6</text>
<line x1="1520" y1="3153.3" x2="1520" y2="3170.8" stroke="#000" stroke-width="3.1"/>
<text transform="translate(1504.7 3241.3) scale(1 1.02)" font-size="55">8</text>
<line x1="1815" y1="3153.3" x2="1815" y2="3170.8" stroke="#000" stroke-width="3.1"/>
<text transform="translate(1786.4 3241.3) scale(1 1.02)" font-size="55">10</text>
<line x1="356" y1="3153.8" x2="1814.5" y2="2576" stroke="#000" stroke-width="3.4" stroke-dasharray="10 3"/>
<circle cx="352.6" cy="3148.8" r="13.4" fill="#000" stroke="#7a7a7a" stroke-width="3.2"/>
<circle cx="411.5" cy="3128.4" r="13.4" fill="#000" stroke="#7a7a7a" stroke-width="3.2"/>
<circle cx="486.4" cy="3109" r="13.4" fill="#000" stroke="#7a7a7a" stroke-width="3.2"/>
<circle cx="634.8" cy="3051" r="13.4" fill="#000" stroke="#7a7a7a" stroke-width="3.2"/>
<circle cx="928.5" cy="2930.5" r="13.4" fill="#000" stroke="#7a7a7a" stroke-width="3.2"/>
<circle cx="1224.5" cy="2802.5" r="13.4" fill="#000" stroke="#7a7a7a" stroke-width="3.2"/>
<circle cx="1519" cy="2681.6" r="13.4" fill="#000" stroke="#7a7a7a" stroke-width="3.2"/>
<circle cx="1814.5" cy="2575.4" r="13.4" fill="#000" stroke="#7a7a7a" stroke-width="3.2"/>
<text x="1182.7" y="2587.4" font-size="52" textLength="462.8" lengthAdjust="spacingAndGlyphs">y = 2E+09x - 2E+08</text>
<text x="1273.5" y="2660.8" font-size="52" textLength="279" lengthAdjust="spacingAndGlyphs">R<tspan font-size="31" dy="-19">2</tspan><tspan dy="19"> = 0.9992</tspan></text>
<text transform="translate(1142.3 2471)" font-size="66.19" font-weight="bold">(D) DG standard curve</text>
<text transform="translate(169.5 3071) rotate(-90)" font-size="60.89">Area count (x E10)</text>
<text x="771.7" y="3317" font-size="58" textLength="385.7" lengthAdjust="spacingAndGlyphs">Concentration</text>
<text x="1166.9" y="3317" font-size="58" textLength="186.7" lengthAdjust="spacingAndGlyphs">(µg/ml)</text>
</g>
<g id="panelE">
<line x1="709.8" y1="3866" x2="709.8" y2="3873.3" stroke="#000" stroke-width="3.2"/>
<line x1="687.8" y1="3866" x2="731.8" y2="3866" stroke="#000" stroke-width="3.6"/>
<rect x="679.4" y="3874.3" width="60.7" height="344.2" fill="#c9c9c9" stroke="#0a0a0a" stroke-width="4"/>
<line x1="786.4" y1="3854" x2="786.4" y2="3866.1" stroke="#000" stroke-width="3.2"/>
<line x1="764.4" y1="3854" x2="808.4" y2="3854" stroke="#000" stroke-width="3.6"/>
<rect x="755.3" y="3867.1" width="61.7" height="351.4" fill="#3b3b3b" stroke="#000" stroke-width="4"/>
<line x1="862.6" y1="3792.8" x2="862.6" y2="3815" stroke="#000" stroke-width="3.2"/>
<line x1="840.6" y1="3792.8" x2="884.6" y2="3792.8" stroke="#000" stroke-width="3.6"/>
<rect x="833" y="3816" width="60.5" height="402.5" fill="#e9e9e9" stroke="#161616" stroke-width="4"/>
<line x1="940.2" y1="3818.3" x2="940.2" y2="3826.5" stroke="#000" stroke-width="3.2"/>
<line x1="918.2" y1="3818.3" x2="962.2" y2="3818.3" stroke="#000" stroke-width="3.6"/>
<rect x="909" y="3827.5" width="61.2" height="391" fill="#000" stroke="#000" stroke-width="4"/>
<line x1="1016.6" y1="3587.2" x2="1016.6" y2="3627.4" stroke="#000" stroke-width="3.2"/>
<line x1="994.6" y1="3587.2" x2="1038.6" y2="3587.2" stroke="#000" stroke-width="3.6"/>
<rect x="985.1" y="3628.4" width="62.2" height="590.1" fill="#7d7d7d" stroke="#1c1c1c" stroke-width="4"/>
<line x1="1347.8" y1="3746" x2="1347.8" y2="3769" stroke="#000" stroke-width="3.2"/>
<line x1="1325.8" y1="3746" x2="1369.8" y2="3746" stroke="#000" stroke-width="3.6"/>
<rect x="1317" y="3770" width="61" height="448.5" fill="#c9c9c9" stroke="#0a0a0a" stroke-width="4"/>
<line x1="1424.5" y1="3774" x2="1424.5" y2="3791.4" stroke="#000" stroke-width="3.2"/>
<line x1="1402.5" y1="3774" x2="1446.5" y2="3774" stroke="#000" stroke-width="3.6"/>
<rect x="1393" y="3792.4" width="62.4" height="426.1" fill="#3b3b3b" stroke="#000" stroke-width="4"/>
<line x1="1502" y1="3696.4" x2="1502" y2="3726.5" stroke="#000" stroke-width="3.2"/>
<line x1="1480" y1="3696.4" x2="1524" y2="3696.4" stroke="#000" stroke-width="3.6"/>
<rect x="1471.2" y="3727.5" width="61.1" height="491" fill="#e9e9e9" stroke="#161616" stroke-width="4"/>
<line x1="1578" y1="3732.2" x2="1578" y2="3746" stroke="#000" stroke-width="3.2"/>
<line x1="1556" y1="3732.2" x2="1600" y2="3732.2" stroke="#000" stroke-width="3.6"/>
<rect x="1547.5" y="3747" width="60.1" height="471.5" fill="#000" stroke="#000" stroke-width="4"/>
<line x1="1654.4" y1="3507.5" x2="1654.4" y2="3546.8" stroke="#000" stroke-width="3.2"/>
<line x1="1632.4" y1="3507.5" x2="1676.4" y2="3507.5" stroke="#000" stroke-width="3.6"/>
<rect x="1623.4" y="3547.8" width="62.4" height="670.7" fill="#7d7d7d" stroke="#1c1c1c" stroke-width="4"/>
<line x1="1820.8" y1="3348.8" x2="1820.8" y2="4218.5" stroke="#1a1a1a" stroke-width="3.8"/>
<line x1="202.5" y1="3348.8" x2="1822.7" y2="3348.8" stroke="#000" stroke-width="3.6"/>
<line x1="224.6" y1="3347" x2="224.6" y2="4220.3" stroke="#000" stroke-width="4.8"/>
<line x1="202.5" y1="4218.5" x2="1822.7" y2="4218.5" stroke="#0a0a0a" stroke-width="3.8"/>
<text transform="translate(115.6 3366.8) scale(1 1.02)" font-size="55">80</text>
<line x1="202.5" y1="3566.2" x2="224.6" y2="3566.2" stroke="#000" stroke-width="3.6"/>
<text transform="translate(115.6 3584.2) scale(1 1.02)" font-size="55">60</text>
<line x1="202.5" y1="3783.7" x2="224.6" y2="3783.7" stroke="#000" stroke-width="3.6"/>
<text transform="translate(115.6 3801.7) scale(1 1.02)" font-size="55">40</text>
<line x1="202.5" y1="4001.1" x2="224.6" y2="4001.1" stroke="#000" stroke-width="3.6"/>
<text transform="translate(115.6 4019.1) scale(1 1.02)" font-size="55">20</text>
<text transform="translate(146.1 4238.5) scale(1 1.02)" font-size="55">0</text>
<line x1="862.1" y1="4218.5" x2="862.1" y2="4242" stroke="#000" stroke-width="3.2"/>
<line x1="1500.6" y1="4218.5" x2="1500.6" y2="4242" stroke="#000" stroke-width="3.2"/>
<text transform="translate(755.8 4333.6) scale(1 1.04)" font-size="66.71" font-weight="bold">1,2-DG</text>
<text transform="translate(1392.6 4334) scale(1 1.04)" font-size="67" font-weight="bold">1,3-DG</text>
<rect x="284.2" y="3396.4" width="123.9" height="39.6" fill="#c9c9c9" stroke="#0a0a0a" stroke-width="3.8"/>
<text transform="translate(440.1 3435.8) scale(1 1.04)" font-size="56">CM</text>
<rect x="284.2" y="3474.2" width="123.9" height="39.6" fill="#3b3b3b" stroke="#000" stroke-width="3.8"/>
<text transform="translate(440.1 3512.5) scale(1 1.04)" font-size="56">MM-M</text>
<rect x="284.2" y="3552" width="123.9" height="39.6" fill="#e9e9e9" stroke="#161616" stroke-width="3.8"/>
<text transform="translate(440.1 3590) scale(1 1.04)" font-size="56">MM-F</text>
<rect x="284.2" y="3629.8" width="123.9" height="39.6" fill="#000" stroke="#000" stroke-width="3.8"/>
<text transform="translate(440.1 3668.2) scale(1 1.04)" font-size="56">MA-B</text>
<rect x="284.2" y="3707.6" width="123.9" height="39.6" fill="#7d7d7d" stroke="#1c1c1c" stroke-width="3.8"/>
<text transform="translate(440.1 3744.8) scale(1 1.04)" font-size="56">MA-T</text>
<text transform="translate(798.5 3726.8)" font-size="60">b</text>
<line x1="690.2" y1="3754.5" x2="960.4" y2="3754.5" stroke="#000" stroke-width="3.4"/>
<text transform="translate(1002.8 3555.3)" font-size="60">a</text>
<text transform="translate(1453.1 3625)" font-size="60">b</text>
<line x1="1317.5" y1="3665.8" x2="1581.5" y2="3665.8" stroke="#000" stroke-width="3.4"/>
<text transform="translate(1638 3489.1)" font-size="60">a</text>
<text transform="translate(963.7 3425)" font-size="66.05" font-weight="bold">(E) DG in meat and antlers</text>
<text transform="translate(79.1 4057) rotate(-90)" font-size="61.16" font-weight="bold">µg/g meat or antler</text>
</g>
</g>
</svg>
</body>
</html>
